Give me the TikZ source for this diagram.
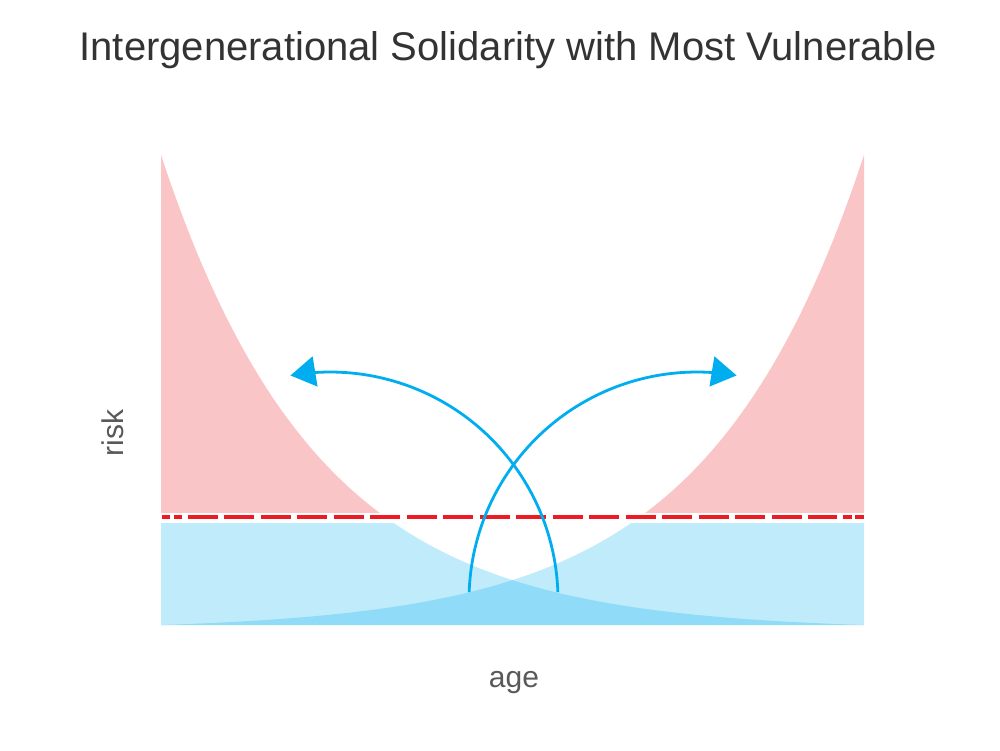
\documentclass[tikz,border=0pt]{standalone}
\usepackage{fontspec}
\setmainfont{Liberation Sans}
\usetikzlibrary{arrows.meta}
\definecolor{riskpink}{RGB}{249,197,199}
\definecolor{lowcyan}{RGB}{0,174,239}
\definecolor{dashred}{RGB}{237,28,36}
\definecolor{titlegray}{RGB}{51,51,51}
\definecolor{labelgray}{RGB}{89,89,89}
\begin{document}
\begin{tikzpicture}[x=1pt,y=-1pt,
  declare function={riskh(\t)=470*(exp(-0.00639*\t)-0.0112)/0.9888;},
  pinkfill/.style={fill=riskpink},
  bluefill/.style={fill=lowcyan, fill opacity=0.25},
  flow/.style={draw=lowcyan, line width=2.8pt, -{Triangle[length=25pt,width=30pt]}},
  threshold/.style={draw=dashred, line width=4pt},
  lbl/.style={text=labelgray, font=\fontsize{30}{36}\selectfont}]
\useasboundingbox (0,0) rectangle (1000,750);
% high-risk parts of the curves (above the threshold)
\begin{scope}
  \clip (161,0) rectangle (864,512);
  \fill[pinkfill] (161,625) -- plot[domain=161:864, samples=140] (\x, {625-riskh(\x-161)}) -- (864,625) -- cycle;
  \fill[pinkfill] (161,625) -- plot[domain=161:864, samples=140] (\x, {625-riskh(864-\x)}) -- (864,625) -- cycle;
\end{scope}
% low-risk parts of the curves (below the threshold)
\begin{scope}
  \clip (161,523) rectangle (864,625);
  \fill[bluefill] (161,625) -- plot[domain=161:864, samples=140] (\x, {625-riskh(\x-161)}) -- (864,625) -- cycle;
  \fill[bluefill] (161,625) -- plot[domain=161:864, samples=140] (\x, {625-riskh(864-\x)}) -- (864,625) -- cycle;
\end{scope}
% threshold line
\draw[threshold, dash pattern=on 8.5pt off 3.5pt] (161.5,517) -- (182.5,517);
\draw[threshold, dash pattern=on 30pt off 6.47pt] (188,517) -- (837,517);
\draw[threshold, dash pattern=on 8.5pt off 3.5pt] (843,517) -- (864.5,517);
% solidarity arrows
\draw[flow] plot[domain=-2:-100, samples=80] ({330+228*cos(\x)}, {600+228*sin(\x)});
\draw[flow] plot[domain=182:280, samples=80] ({697+228*cos(\x)}, {600+228*sin(\x)});
% texts
\node[text=titlegray, font=\fontsize{40}{48}\selectfont, anchor=base] (title) at (508,60) {Intergenerational Solidarity with Most Vulnerable};
\node[lbl, anchor=base] (xlabel) at (514,687) {age};
\node[lbl, anchor=base, rotate=90] (ylabel) at (123,433) {risk};
\end{tikzpicture}
\end{document}
